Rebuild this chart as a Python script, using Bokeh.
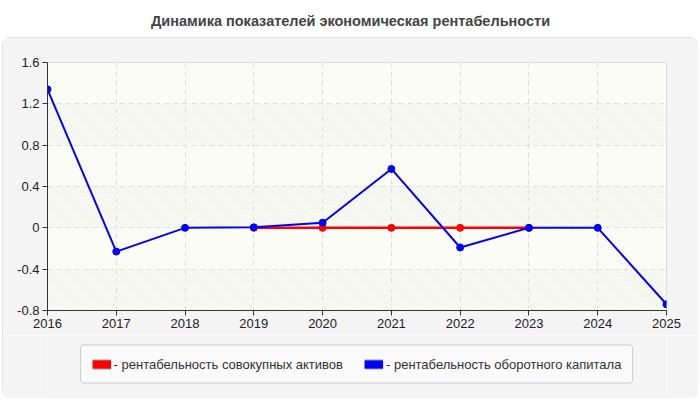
from bokeh.plotting import figure
from bokeh.layouts import column
from bokeh.models import Range1d, FixedTicker, BoxAnnotation, Label, Legend, LegendItem
from bokeh.embed import file_html
from bokeh.resources import INLINE

# data
years = [2016, 2017, 2018, 2019, 2020, 2021, 2022, 2023, 2024, 2025]
oborot = [1.34, -0.23, 0.0, 0.005, 0.05, 0.57, -0.19, 0.0, 0.0, -0.74]
red_years = [2019, 2020, 2021, 2022, 2023]
sovok = [0.0, 0.0, 0.0, 0.0, 0.0]

y_ticks = [-0.8, -0.4, 0, 0.4, 0.8, 1.2, 1.6]
y_labels = ["-0.8", "-0.4", "0", "0.4", "0.8", "1.2", "1.6"]

title_text = "Динамика показателей экономическая рентабельности"
label_red = "- рентабельность совокупных активов"
label_blue = "- рентабельность оборотного капитала"

FONT = "Liberation Sans"
PANEL = "#f4f4f4"

# title strip (white, above the grey panel)
t = figure(width=700, height=37, output_backend="svg", toolbar_location=None,
           x_range=Range1d(0, 700), y_range=Range1d(0, 37), min_border=0,
           x_axis_location=None, y_axis_location=None)
t.grid.visible = False
t.outline_line_color = None
t.background_fill_color = "white"
t.border_fill_color = "white"
t.add_layout(Label(x=350, y=17, text=title_text, text_align="center",
                   text_baseline="middle", text_font=FONT, text_font_size="14.5px",
                   text_font_style="bold", text_color="#444444"))

# main chart
p = figure(width=696, height=298, output_backend="svg", toolbar_location=None,
           x_range=Range1d(2016, 2025), y_range=Range1d(-0.8, 1.6),
           min_border_left=45, min_border_right=32, min_border_top=25, min_border_bottom=25)

p.border_fill_color = PANEL
p.background_fill_color = "#fcfcf6"
p.outline_line_color = "#dddddd"

# striped bands in the plot area
for i in range(len(y_ticks) - 1):
    if i % 2 == 0:
        band = BoxAnnotation(bottom=y_ticks[i], top=y_ticks[i + 1], fill_color=None,
                             line_color=None, hatch_pattern="/", hatch_color="#efefe9",
                             hatch_scale=6, hatch_weight=1, level="underlay")
        p.add_layout(band)

# axes
p.xaxis.ticker = FixedTicker(ticks=years)
p.yaxis.ticker = FixedTicker(ticks=y_ticks)
p.yaxis.major_label_overrides = dict(zip(y_ticks, y_labels))
for ax in (p.xaxis, p.yaxis):
    ax.axis_line_color = "#333333"
    ax.major_tick_line_color = "#333333"
    ax.major_tick_out = 5
    ax.major_tick_in = 0
    ax.minor_tick_line_color = None
    ax.major_label_text_font = FONT
    ax.major_label_text_font_size = "13px"
    ax.major_label_text_color = "#222222"
p.xaxis.major_label_standoff = 3
p.yaxis.major_label_standoff = 3

p.xgrid.ticker = FixedTicker(ticks=years[1:-1])
p.ygrid.ticker = FixedTicker(ticks=y_ticks[1:-1])
for g in (p.xgrid, p.ygrid):
    g.grid_line_color = "#dddddd"
    g.grid_line_dash = "5 4"

# series
p.line(red_years, sovok, color="#ff0000", line_width=2.5)
p.scatter(red_years, sovok, size=7, color="#ff0000")
p.line(years, oborot, color="#0000ff", line_width=2)
p.scatter(years, oborot, size=7, color="#0000ff")

# legend strip, same grey panel; swatch renderers sit outside the visible range
lg = figure(width=696, height=63, output_backend="svg", toolbar_location=None,
            x_range=Range1d(0, 1), y_range=Range1d(0, 1),
            min_border_left=0, min_border_right=14, min_border_top=0, min_border_bottom=5,
            x_axis_location=None, y_axis_location=None)
lg.grid.visible = False
lg.outline_line_color = None
lg.background_fill_color = PANEL
lg.border_fill_color = PANEL

hidden_x = [-3, -2]
hidden_y = [-3, -3]
r_edge = lg.line(hidden_x, hidden_y, color="#999999", line_width=10)
r_red = lg.line(hidden_x, hidden_y, color="#ff0000", line_width=8)
b_edge = lg.line(hidden_x, hidden_y, color="#999999", line_width=10)
b_blue = lg.line(hidden_x, hidden_y, color="#0000ff", line_width=8)

legend = Legend(items=[LegendItem(label=label_red, renderers=[r_edge, r_red]),
                       LegendItem(label=label_blue, renderers=[b_edge, b_blue])],
                location="center", orientation="horizontal",
                glyph_width=19, glyph_height=15, label_height=15, label_standoff=3,
                spacing=21, padding=11, margin=0,
                label_text_font=FONT, label_text_font_size="13px", label_text_color="#333333",
                background_fill_color="#fafafa", background_fill_alpha=1,
                border_line_color="#a0a0a0", border_radius=4)
lg.add_layout(legend, "center")

panel = column(p, lg, margin=(0, 2, 2, 2),
               styles={"border-radius": "8px", "overflow": "hidden",
                       "outline": "1px solid #dddddd", "outline-offset": "-1px"})

open("out.html", "w").write(file_html(column(t, panel), INLINE))
